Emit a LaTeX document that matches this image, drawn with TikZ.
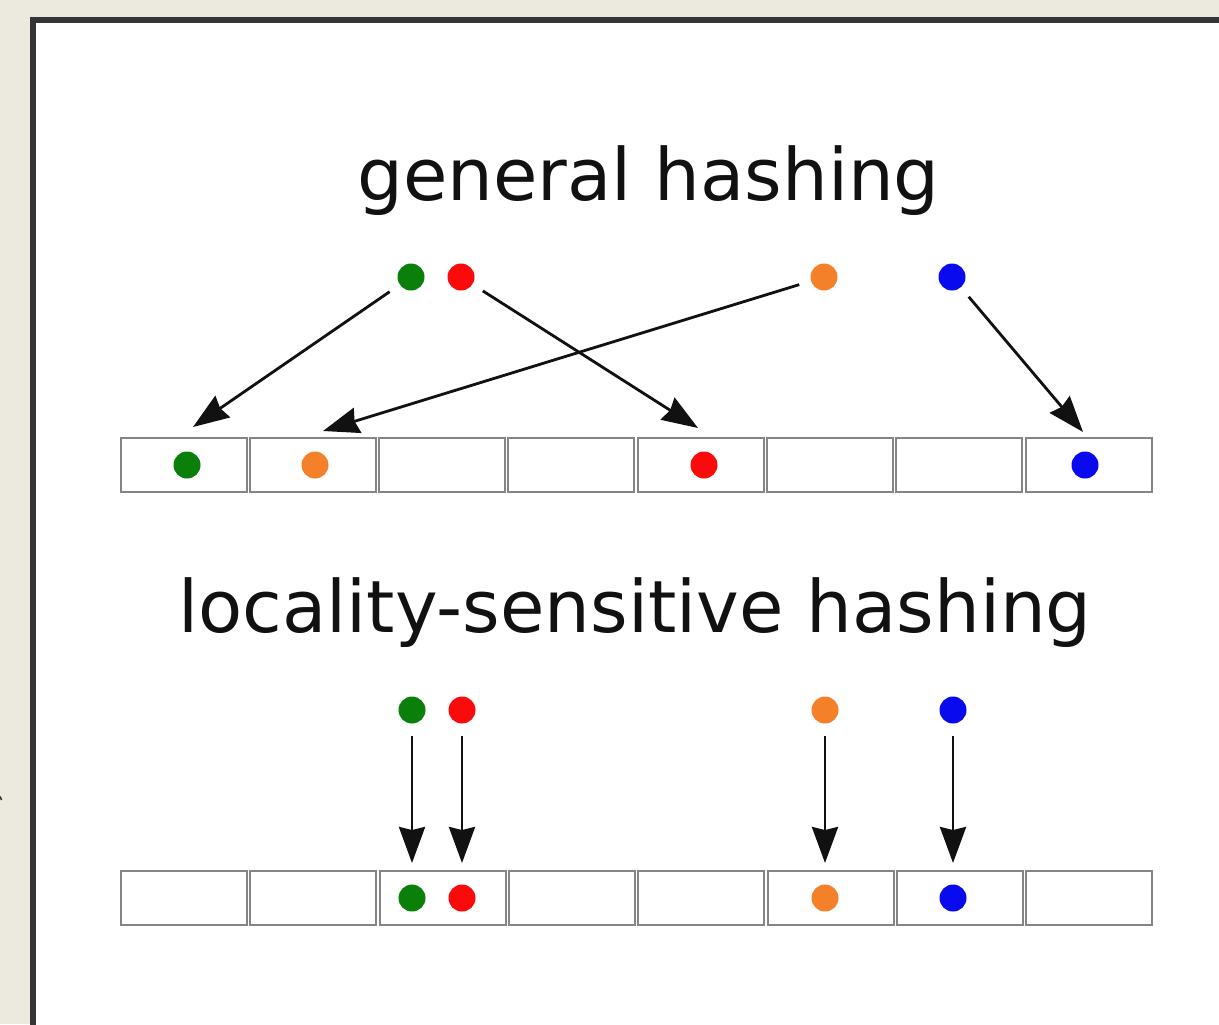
\documentclass[tikz,border=0pt]{standalone}
\usepackage{fontspec}
\setmainfont{DejaVu Sans}
\usetikzlibrary{arrows.meta}

\definecolor{paper}{HTML}{ECE9DF}
\definecolor{frame}{HTML}{353535}
\definecolor{cellgray}{HTML}{858585}
\definecolor{ink}{HTML}{111111}
\definecolor{dgreen}{HTML}{0A7F0A}
\definecolor{dred}{HTML}{FA0A0A}
\definecolor{dorange}{HTML}{F5802A}
\definecolor{dblue}{HTML}{0A0AEE}

\tikzset{
  cellbox/.style={draw=cellgray, line width=1pt, minimum width=63pt,
    minimum height=27pt, inner sep=0pt, outer sep=0pt},
  dot/.style={circle, fill=#1, minimum size=13.5pt, inner sep=0pt},
  hasharrow/.style={-{Stealth[length=18pt,width=13pt,inset=1.5pt]},
    line width=1.4pt, draw=ink, shorten <=6pt},
  title/.style={anchor=base, text=ink, inner sep=0pt,
    font=\fontsize{36.1pt}{40pt}\selectfont},
}

\begin{document}
\begin{tikzpicture}[x=0.5pt,y=-0.5pt]
\useasboundingbox (0,0) rectangle (1219,1024);
\clip (0,0) rectangle (1219,1024);

% page background and framed white panel
\fill[paper] (0,0) rectangle (1219,1024);
\filldraw[fill=white, draw=frame, line width=3pt] (32.5,19.7) rectangle (1260,1070);
\draw[frame, line width=0.8pt] (0,796.5) -- (1.6,800);

% ---------- general hashing ----------
\node[title] (gtitle) at (648.5,200) {general hashing};

\node[dot=dgreen]  (gsg) at (411,277) {};
\node[dot=dred]    (gsr) at (461,277) {};
\node[dot=dorange] (gso) at (824,277) {};
\node[dot=dblue]   (gsb) at (952,277) {};

\foreach \i in {0,...,7}
  \node[cellbox] (g\i) at ({183.5+129.3*\i},465) {};

\node[dot=dgreen]  (gdg) at (187,465) {};
\node[dot=dorange] (gdo) at (315,465) {};
\node[dot=dred]    (gdr) at (704,465) {};
\node[dot=dblue]   (gdb) at (1085,465) {};

\coordinate (tg) at (193,427);
\coordinate (tr) at (698,428);
\coordinate (to) at (323,431);
\coordinate (tb) at (1083,432);

\draw[hasharrow] (gsg) -- (tg);
\draw[hasharrow] (gsr) -- (tr);
\draw[hasharrow] (gso) -- (to);
\draw[hasharrow] (gsb) -- (tb);

% ---------- locality-sensitive hashing ----------
\node[title] (ltitle) at (635,632.7) {locality-sensitive hashing};

\node[dot=dgreen]  (lsg) at (412,710) {};
\node[dot=dred]    (lsr) at (462,710) {};
\node[dot=dorange] (lso) at (825,710) {};
\node[dot=dblue]   (lsb) at (953,710) {};

\foreach \i in {0,...,7}
  \node[cellbox] (b\i) at ({184+129.3*\i},898) {};

\node[dot=dgreen]  (ldg) at (412,898) {};
\node[dot=dred]    (ldr) at (462,898) {};
\node[dot=dorange] (ldo) at (825,898) {};
\node[dot=dblue]   (ldb) at (953,898) {};

\draw[hasharrow, shorten >=4pt] (lsg) -- (lsg |- b2.north);
\draw[hasharrow, shorten >=4pt] (lsr) -- (lsr |- b2.north);
\draw[hasharrow, shorten >=4pt] (lso) -- (lso |- b5.north);
\draw[hasharrow, shorten >=4pt] (lsb) -- (lsb |- b6.north);
\end{tikzpicture}
\end{document}
